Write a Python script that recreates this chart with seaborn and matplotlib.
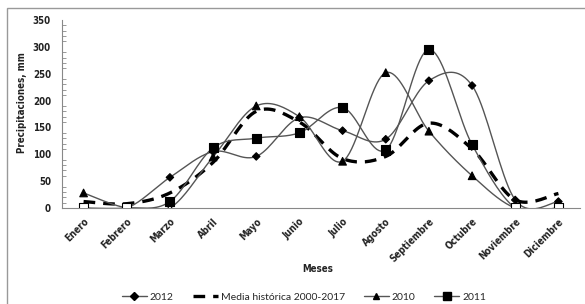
import numpy as np
import pandas as pd
import matplotlib
matplotlib.use("Agg")
import matplotlib.pyplot as plt
from matplotlib.patches import Rectangle
from matplotlib.ticker import MultipleLocator
from matplotlib.lines import Line2D
import seaborn as sns

meses = ["Enero", "Febrero", "Marzo", "Abril", "Mayo", "Junio", "Julio",
         "Agosto", "Septiembre", "Octubre", "Noviembre", "Diciembre"]
p2012 = [0, 0, 57, 105, 96, 168, 144, 128, 237, 228, 15, 12]
media = [12, 8, 28, 85, 180, 160, 92, 96, 158, 110, 15, 27]
p2010 = [28, 0, 0, 95, 190, 170, 87, 252, 143, 60, 0, 0]
p2011 = [0, 0, 12, 112, 130, 140, 187, 108, 295, 118, 0, 0]

sns.set_theme(style="white")
plt.rcParams['font.family'] = ['DejaVu Sans']
plt.rcParams['font.stretch'] = 'condensed'

fig = plt.figure(figsize=(5.85, 3.04), dpi=100)
ax = fig.add_axes([62/585, 1-208/304, 518/585, 188/304])

def smooth(xs, ys, n=20):
    # Excel-style smoothed line (Catmull-Rom Bezier) for rendering only
    xs = np.asarray(xs, float); ys = np.asarray(ys, float)
    P = np.column_stack([xs, ys])
    out = []
    for i in range(len(P) - 1):
        p0 = P[i - 1] if i > 0 else P[i]
        p1 = P[i]; p2 = P[i + 1]
        p3 = P[i + 2] if i + 2 < len(P) else P[i + 1]
        c1 = p1 + (p2 - p0) / 6.0
        c2 = p2 - (p3 - p1) / 6.0
        t = np.linspace(0, 1, n)[:, None]
        seg = ((1-t)**3)*p1 + 3*((1-t)**2)*t*c1 + 3*(1-t)*t**2*c2 + t**3*p2
        out.append(seg if i == 0 else seg[1:])
    s = np.vstack(out)
    return s[:, 0], s[:, 1]

xidx = np.arange(len(meses))
series = [
    ("2012", p2012, "D", 3.8, "-", 1.0, "#555555"),
    ("Media histórica 2000-2017", media, None, 0, (0, (3.5, 2.4)), 2.4, "black"),
    ("2010", p2010, "^", 5.5, "-", 1.0, "#555555"),
    ("2011", p2011, "s", 6.5, "-", 1.0, "#555555"),
]
order_z = {"Media histórica 2000-2017": 2, "2012": 3, "2010": 4, "2011": 5}
for name, vals, mk, ms, ls, lw, col in series:
    sx, sy = smooth(xidx, vals)
    df = pd.DataFrame({"x": sx, "y": sy})
    sns.lineplot(data=df, x="x", y="y", ax=ax, color=col, linestyle=ls,
                 linewidth=lw, sort=False, estimator=None, zorder=order_z[name])
    if mk:
        vals_a = np.asarray(vals, float)
        fc = np.where(vals_a == 0, "white", "black")
        ax.scatter(xidx, vals_a, marker=mk, s=ms**2, c=list(fc),
                   edgecolors="black", linewidths=0.8, zorder=order_z[name] + 5)

ax.set_xlim(-0.5, 11.5)
ax.set_ylim(0, 350)
ax.yaxis.set_major_locator(MultipleLocator(50))
ax.yaxis.set_minor_locator(MultipleLocator(10))
ax.set_xticks(xidx)
ax.set_xticklabels(meses, rotation=45, ha="right", rotation_mode="anchor",
                   fontsize=7, color="#222222")
ax.set_xticks(np.arange(-0.5, 12, 1), minor=True)
ax.tick_params(axis="x", which="major", length=0, pad=6)
ax.tick_params(axis="x", which="minor", direction="inout", length=6, width=0.8, color="#888888")
ax.tick_params(axis="y", which="major", direction="inout", length=6, width=0.8,
               color="#888888", labelsize=7, labelcolor="#222222", pad=5)
ax.tick_params(axis="y", which="minor", direction="in", length=3, width=0.6,
               color="#888888", left=True)
for lbl in ax.get_yticklabels() + ax.get_xticklabels():
    lbl.set_fontweight("bold")
    lbl.set_fontstretch("condensed")
for s in ["top", "right"]:
    ax.spines[s].set_visible(False)
for s in ["left", "bottom"]:
    ax.spines[s].set_color("#888888")
    ax.spines[s].set_linewidth(0.8)
ax.set_xlabel("")
ax.set_ylabel("")
fig.text(22/585, 1-103/304, "Precipitaciones, mm", rotation=90, ha="center",
         va="center", fontsize=7, fontweight="bold", fontstretch="condensed",
         color="#222222")
fig.text(318/585, 1-269/304, "Meses", ha="center", va="center",
         fontsize=7, fontweight="bold", fontstretch="condensed", color="#222222")

handles = [
    Line2D([], [], color="#555555", lw=1, marker="D", ms=3.8, mfc="black", mec="black"),
    Line2D([], [], color="black", lw=2.4, linestyle=(0, (3.5, 2.4))),
    Line2D([], [], color="#555555", lw=1, marker="^", ms=5, mfc="black", mec="black"),
    Line2D([], [], color="#555555", lw=1, marker="s", ms=5.5, mfc="black", mec="black"),
]
labels = ["2012", "Media histórica 2000-2017", "2010", "2011"]
fig.legend(handles, labels, loc="center", bbox_to_anchor=(304/585, 1-297/304),
           ncol=4, frameon=False, handlelength=2.4,
           columnspacing=1.8, handletextpad=0.3,
           prop={"family": ["Lato", "DejaVu Sans"], "size": 7.5, "stretch": "normal"})

fig.patches.append(Rectangle((7/585, -0.05), 1.0, 1-8/304+0.05,
                             transform=fig.transFigure, fill=False,
                             edgecolor="#999999", linewidth=1.0))

fig.savefig("out.png", dpi=100)
